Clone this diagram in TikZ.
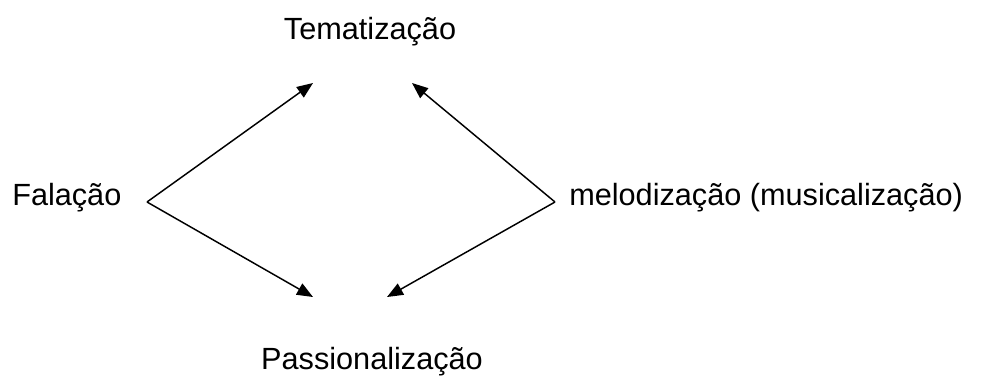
\documentclass[tikz,border=0pt]{standalone}
\usepackage{fontspec}
\setmainfont{Liberation Sans}
\usetikzlibrary{arrows.meta}

\begin{document}
\begin{tikzpicture}[x=0.75pt, y=-0.75pt, label/.style = {inner sep=0pt, font=\fontsize{23}{28}\selectfont}, arr/.style = {-{Triangle[length=12pt, width=9.5pt]}, line width=1.1pt}]
	\useasboundingbox (0,0) rectangle (982,375);
	\node[label, anchor=base] (tema) at (370,39) {Tematização};
	\node[label, anchor=base west] (fala) at (12,205) {Falação};
	\node[label, anchor=base west] (melo) at (569,205) {melodização (musicalização)};
	\node[label, anchor=base] (paix) at (372,369) {Passionalização};
	\coordinate (l) at (147,202);
	\coordinate (r) at (555,202);
	\coordinate (tl) at (313,83);
	\coordinate (tr) at (412,83);
	\coordinate (bl) at (313,297);
	\coordinate (br) at (387,297);
	\draw[arr] (l) -- (tl);
	\draw[arr] (l) -- (bl);
	\draw[arr] (r) -- (tr);
	\draw[arr] (r) -- (br);
\end{tikzpicture}
\end{document}
